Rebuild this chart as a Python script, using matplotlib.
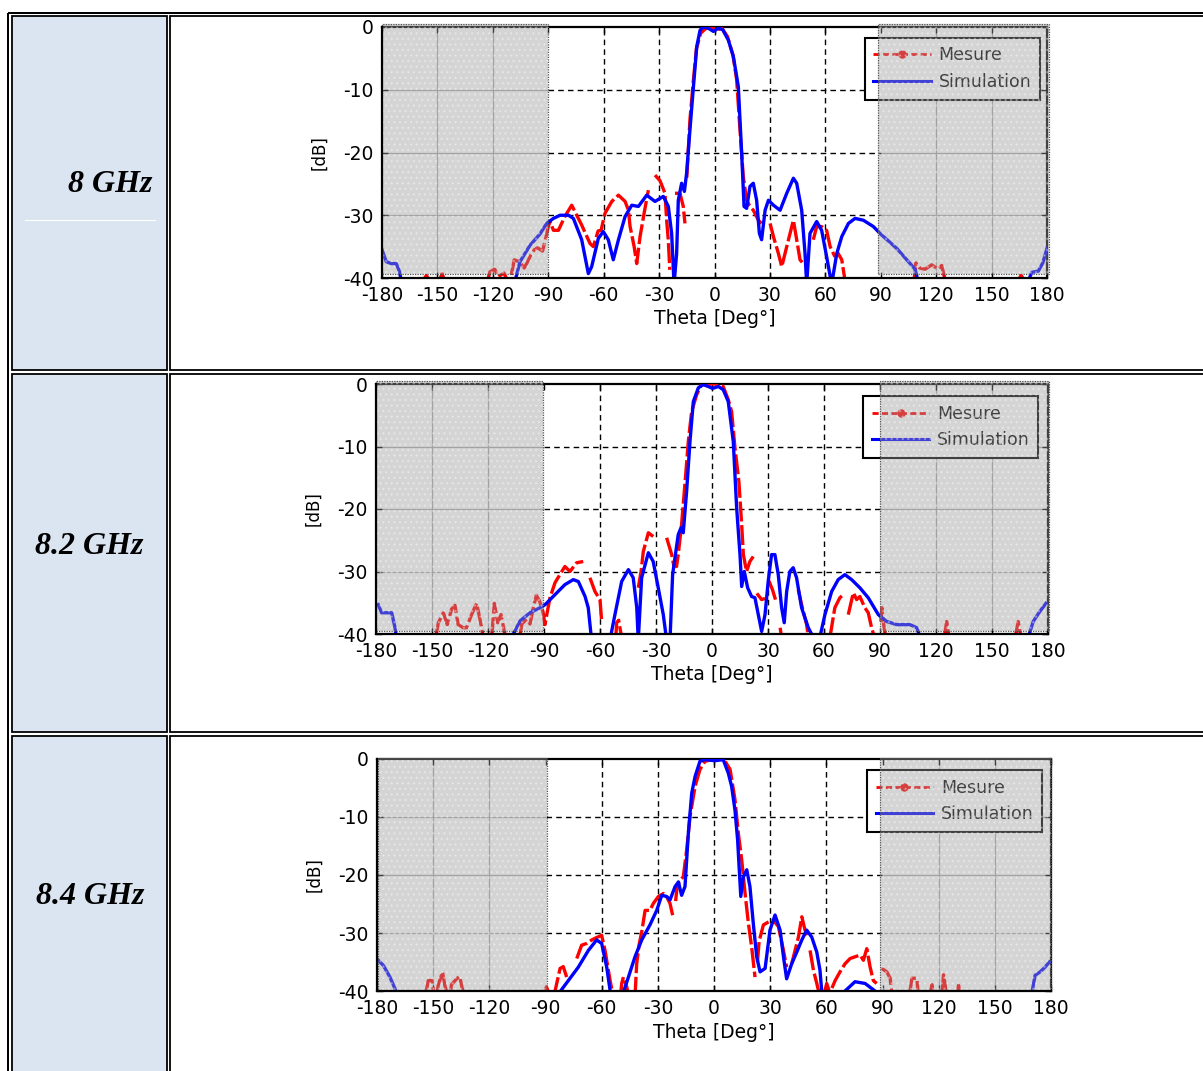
import numpy as np
import matplotlib
matplotlib.use('Agg')
import matplotlib.pyplot as plt
from matplotlib.patches import Rectangle
from matplotlib.lines import Line2D

plt.rcParams['font.family'] = ['DejaVu Sans']
plt.rcParams['axes.unicode_minus'] = False
plt.rcParams['hatch.linewidth'] = 1.0

nan = np.nan

# ---------------- data ----------------
freq_labels = ['8 GHz', '8.2 GHz', '8.4 GHz']
series_names = ['Mesure', 'Simulation']
theta_ticks = list(range(-180, 181, 30))
db_ticks = [-40, -30, -20, -10, 0]
x_label = 'Theta [Deg°]'
y_label = '[dB]'

# 8 GHz
sim_8 = [(-180, -35.5), (-177.7, -37.4), (-175, -37.7), (-172.3, -37.7), (-170.5, -39), (-169.6, -40.5), (nan, nan),
         (-108, -40.5), (-105.3, -37.4), (-99.9, -34.8), (-94.5, -33.0), (-90.85, -31.3), (-87.2, -30.5), (-83.6, -30.0),
         (-79.1, -30.0), (-76.4, -30.5), (-71.9, -33.9), (-68.3, -39.3), (-66.5, -38.2), (-62.9, -33.7), (-60.2, -32.6),
         (-57.5, -33.9), (-54.8, -37.1), (-52.0, -33.9), (-48.4, -30.2), (-44.8, -28.4), (-41.2, -28.6), (-36.7, -26.8),
         (-32.2, -27.8), (-27.7, -27.0), (-25.0, -28.6), (-23.2, -32.9), (-21.9, -41), (-20.5, -36.1), (-19.6, -27.6),
         (-17.8, -24.9), (-16.3, -26.2), (-15.1, -23.3), (-13.3, -16.4), (-11.4, -9.5), (-9.6, -3.1), (-7.8, -0.5),
         (-6.0, 0), (-3.3, -0.2), (-0.6, -0.7), (2.1, -0.2), (4.4, -0.4), (7.5, -2.1), (10.2, -4.7), (12.9, -9.5),
         (14.7, -20.1), (16.0, -28.6), (17.4, -28.9), (19.2, -25.4), (21.0, -24.9), (22.8, -27.6), (24.3, -32.9),
         (25.5, -33.9), (27.4, -29.2), (29.2, -27.6), (31.9, -28.4), (35.5, -29.2), (39.1, -26.5), (42.7, -24.1),
         (44.5, -24.9), (47.2, -29.2), (49.0, -36.1), (49.9, -41), (51.7, -32.9), (55.3, -31.0), (58.0, -32.4),
         (60.7, -36.6), (63.4, -41), (66.2, -36.1), (68.9, -33.4), (72.5, -31.3), (76.1, -30.5), (80.6, -30.8),
         (86.0, -31.8), (89.6, -32.9), (98.7, -35.3), (108.6, -38.6), (110.1, -40.5), (nan, nan),
         (169.9, -40.5), (171.7, -39.1), (175.3, -38.9), (177.7, -37.6), (180, -35.3)]
mes_8 = [(-158, -40.5), (-156, -39.6), (-154, -40.5), (nan, nan),
         (-149, -40.5), (-147.5, -39.3), (-146, -40.5), (nan, nan),
         (-123, -40.5), (-121.5, -39), (-119, -38.6), (-117, -39.8), (-114, -39.2), (-112, -40.5), (nan, nan),
         (-110, -39.5), (-108.4, -37.1), (-105.7, -37.4), (-103, -38.4), (-101, -37.3), (-99.4, -36.3), (-97.5, -35.5),
         (-95.8, -35.2), (-93.1, -35.7), (-91.3, -33.6), (-90, -31.8), (-89.0, -31.0), (-87.2, -32.4), (-84.5, -32.4),
         (-81.0, -30.2), (-77.3, -28.4), (-72, -31.5), (-67.4, -34.5), (-65.6, -35), (-63, -32.5), (-61.4, -32.4),
         (-59.3, -29.7), (-55.6, -27.8), (-52.0, -26.8), (-48.4, -27.8), (-46.6, -29.2), (-45.7, -31.8), (-43.5, -35),
         (-42.1, -37.7), (-40.3, -33.4), (-38, -29.5), (-35.8, -26.0), (nan, nan),
         (-32.2, -23.6), (-29.5, -24.5), (-26.8, -26.5), (-25.9, -30.8), (-25, -34), (-24.2, -38.7), (nan, nan),
         (-21.4, -26.5), (-18.7, -26.5), (-16.9, -28.6), (-16.0, -31.3), (nan, nan),
         (-15, -24), (-13.3, -14.8), (-11.4, -8.4), (-9.8, -3.5), (-7.5, -1.0), (-5, -0.3), (-2, 0), (1, -0.5),
         (4, -0.2), (7, -1.5), (10, -4.5), (12.0, -8.4), (13.8, -16.4), (15.6, -23.9), (17.4, -27.6), (19, -28.5),
         (21.0, -29.2), (23.8, -30.8), (25.5, -31.3), (nan, nan),
         (30.1, -31.3), (31.9, -33.4), (34.6, -36.1), (36.4, -38.2), (39.1, -35.0), (42.7, -30.8), (44.5, -33.9),
         (46.3, -37.1), (47.5, -37.5), (nan, nan),
         (53.5, -33.9), (55.3, -31.8), (58, -31.8), (60.7, -32.4), (62.6, -35), (65, -36.5), (67, -36.1),
         (68.9, -37.1), (70.7, -40.5), (nan, nan),
         (108, -40.5), (109, -37.6), (111, -38.4), (114, -38.6), (117.6, -37.9), (121, -38.6), (123, -38.0),
         (125, -40.5), (nan, nan),
         (164, -40.5), (166, -39.6), (168, -40.5)]

# 8.2 GHz
sim_82 = [(-178.8, -35.3), (-177, -36.6), (-171.6, -36.6), (-169.8, -39), (-169.2, -40.5), (nan, nan),
          (-107.3, -40.5), (-102.8, -37.9), (-97.5, -36.6), (-92.1, -35.8), (-89.4, -35.3), (-84.1, -33.7),
          (-78.8, -32.1), (-74.3, -31.3), (-71.6, -31.6), (-68.0, -34.0), (-66.3, -35.8), (-64.5, -41), (nan, nan),
          (-54.7, -41), (-52.0, -36.9), (-48.4, -31.6), (-44.8, -29.7), (-42.2, -31.0), (-40.3, -35.8), (-39.5, -41),
          (-37.7, -31.0), (-34.1, -27.0), (-31.5, -28.4), (-28.8, -32.6), (-26.1, -36.9), (-24.3, -41), (-22.5, -41),
          (-21.1, -30.5), (-18.1, -24.1), (-16.6, -23.0), (-15.4, -23.8), (-13.6, -17.2), (-11.8, -9.2),
          (-10.0, -2.8), (-7.3, -0.6), (-4.7, -0.1), (-2.0, -0.4), (0.3, -0.7), (3.4, -0.4), (6.0, -0.9),
          (8.7, -2.8), (11.4, -9.2), (13.2, -19.8), (15.0, -27.3), (15.9, -32.4), (17.3, -30.0), (19.1, -32.6),
          (21.2, -34.0), (23.0, -34.2), (24.8, -36.9), (26.6, -39.6), (28.4, -36.9), (30.1, -31.6), (31.9, -27.3),
          (33.7, -27.3), (35.5, -30.5), (37.3, -35.8), (38.7, -38.2), (40.0, -33.2), (41.7, -30.0), (43.5, -29.4),
          (45.3, -31.0), (48.0, -35.8), (51.6, -39.0), (54.2, -40.5), (57.8, -40.5), (60.5, -36.9), (64.1, -33.2),
          (67.6, -31.3), (71.2, -30.5), (74.8, -31.3), (79.2, -32.6), (83.7, -34.2), (89.1, -36.9), (93.6, -38.0),
          (99.0, -38.5), (106.1, -38.5), (109.7, -39), (111.5, -40.5), (nan, nan),
          (169.4, -40.5), (172.1, -38), (175.6, -36.4), (178.9, -35.1)]
mes_82 = [(-148, -40.5), (-146.6, -38.2), (-143.9, -36.6), (-141.8, -38.5), (-139.5, -36.0), (-137.7, -35.4),
          (-136, -38.5), (-133.3, -39), (-131.5, -39), (-128.8, -36.9), (-126.1, -35.1), (-124.4, -37.5),
          (-122.5, -40.5), (nan, nan),
          (-118, -40.5), (-116.6, -35.1), (-114.8, -38.2), (-113, -36.9), (-111, -40), (nan, nan),
          (-103, -40.5), (-101.9, -38.4), (-99.2, -37.6), (-97.5, -38.4), (-95.8, -35.9), (-94.1, -33.8),
          (-92.3, -34.8), (-90.5, -36.5), (-89.5, -38.5), (-86.8, -34.2), (-84.1, -31.8), (-81.5, -30.5),
          (-78.8, -29.2), (-76.1, -30.0), (-72.5, -28.6), (-69.0, -28.4), (nan, nan),
          (-65.4, -31.0), (-62.7, -33.2), (-60.0, -34.5), (-59.1, -38.0), (nan, nan),
          (-51.5, -40.5), (-51.1, -38.2), (-50, -37.8), (-48.4, -40.6), (nan, nan),
          (-39.5, -32.6), (-38, -30), (-36.8, -26.8), (-34.1, -23.8), (-31.5, -24.4), (nan, nan),
          (-24.3, -24.6), (-21.6, -27.3), (-20.5, -29), (-19.0, -29.2), (-18.1, -27.3), (-16.3, -22.5),
          (-14.5, -16), (-12.7, -9.2), (-10.9, -4.4), (-8.2, -1.7), (-5.6, -0.1), (0, 0), (3, 0), (6.0, -0.4),
          (8.7, -2.5), (10.5, -4.4), (12.3, -10.2), (14.4, -15.6), (15.9, -22.5), (16.8, -27.3), (18.5, -30),
          (20.3, -28.4), (22.1, -27.6), (nan, nan),
          (24, -33.5), (26.6, -34.5), (28.4, -34.3), (nan, nan),
          (30.5, -31.5), (32.5, -33), (34, -34.5), (nan, nan),
          (36.5, -39), (37.5, -41), (nan, nan),
          (46.2, -32.9), (48.0, -35.3), (50.7, -38.5), (51.6, -40.5), (nan, nan),
          (63.2, -40.5), (65.8, -35.8), (68.5, -34.2), (70.3, -33.7), (nan, nan),
          (73.0, -36.9), (75.7, -33.4), (77.5, -34.5), (79.2, -34.0), (81.9, -35.8), (83.7, -36.6), (85.5, -39),
          (87, -40.5), (nan, nan),
          (90.5, -38), (91, -35.8), (92, -38.5), (93, -40.5), (nan, nan),
          (124.5, -40.5), (125.7, -38.0), (127, -40.5), (nan, nan),
          (162.5, -40.5), (164, -38), (165.5, -40.5)]

# 8.4 GHz
sim_84 = [(-179.3, -34.7), (-176.6, -35.6), (-173.1, -37.6), (-170.4, -39.6), (-169.5, -40.5), (nan, nan),
          (-83.1, -40.5), (-77.8, -38.2), (-72.5, -35.9), (-67.1, -33.0), (-62.7, -31.2), (-60.0, -31.8),
          (-57.3, -35.9), (-55.5, -39.9), (-54.5, -41), (nan, nan),
          (-49, -41), (-48.4, -40.2), (-45.7, -37.6), (-42.2, -34.1), (-38.6, -31.2), (-34.2, -28.6), (-30.6, -26.1),
          (-27.9, -23.5), (-25.3, -23.7), (-23.5, -24.3), (-20.8, -22.0), (-19.0, -21.2), (-17.3, -23.5),
          (-15.5, -22.0), (-13.7, -12.8), (-11.9, -5.9), (-10.1, -3.0), (-7.5, -0.4), (-4.8, -0.1), (0.5, -0.3),
          (4.9, -0.1), (7.6, -2.4), (9.4, -4.7), (11.2, -8.8), (12.6, -13.9), (14.3, -23.7), (15.7, -20.3),
          (17.5, -19.1), (19.2, -22.0), (21.0, -28.4), (22.8, -34.1), (24.6, -36.7), (27.3, -36.1), (29.9, -29.5),
          (32.6, -26.9), (35.3, -29.5), (37.1, -34.1), (38.8, -37.9), (41.5, -35.3), (44.2, -33.3), (46.9, -31.2),
          (49.5, -29.5), (52.2, -30.7), (54.9, -33.3), (56.6, -36.4), (57.5, -39.9), (58, -41), (nan, nan),
          (69, -41), (70.0, -40), (75.3, -38.4), (80.7, -38.7), (86.0, -40), (87, -41), (nan, nan),
          (169.7, -40.5), (171.5, -37.3), (174.2, -36.7), (176.8, -35.9), (179.1, -35.0)]
mes_84 = [(-154, -40.5), (-152.6, -38.2), (-150.8, -38.2), (-149.5, -40.5), (nan, nan),
          (-148, -40.5), (-147.3, -39.0), (-145.0, -36.7), (-143.8, -39), (-142.5, -40.5), (nan, nan),
          (-141, -40.5), (-140.2, -38.9), (-137.2, -37.8), (-135.8, -37.5), (-134.5, -39.5), (-133.5, -40.5),
          (nan, nan),
          (-91, -40.5), (-89.5, -39.3), (-88, -40.5), (nan, nan),
          (-85.5, -41), (-84.9, -40), (-82.2, -36.1), (-80.5, -35.8), (-78.7, -37.6), (-78, -37), (nan, nan),
          (-73.3, -34.4), (-70.7, -32.1), (-68.0, -31.8), (-65.3, -31.2), (-63.5, -30.9), (-60.0, -30.4),
          (-58.2, -33.0), (-55.5, -38.2), (-53.8, -41), (nan, nan),
          (-50, -41), (-49.3, -38.7), (-48.4, -37.6), (-46.6, -39.3), (-45.5, -41), (nan, nan),
          (-42.2, -41), (-41.3, -35.3), (-40, -32), (-38.6, -29.8), (-36.8, -26.1), (-34.2, -26.1), (-32.4, -24.9),
          (-29.7, -23.7), (-27.0, -23.2), (-25.5, -23.6), (-23.5, -24.9), (-21.7, -27.5), (nan, nan),
          (-20.5, -24.5), (-19.9, -22.6), (-18.7, -21.2), (-16.4, -20.3), (-14.6, -15.7), (-12.8, -9.9),
          (-10.1, -4.7), (-7.5, -1.8), (-4.8, -0.4), (0, 0), (3, 0), (5.9, -0.4), (8.6, -1.8), (11.2, -7.0),
          (13.0, -12.8), (14.8, -17.4), (16.6, -23.2), (18.4, -28.4), (20.1, -32.4), (21.9, -37.6), (nan, nan),
          (23.2, -35), (24.1, -31.4), (26.4, -28.6), (29.1, -28.1), (31.7, -27.8), (34.4, -28.9), (37.1, -33.0),
          (38.8, -35.9), (nan, nan),
          (41.5, -35.3), (43.3, -33.0), (45.1, -30.7), (46.9, -27.2), (48.6, -29.5), (50.4, -30.7), (nan, nan),
          (51.3, -33.0), (53.1, -36.4), (54.9, -38.7), (56.6, -41), (nan, nan),
          (59.3, -39.9), (60.2, -38.7), (61.5, -40), (nan, nan),
          (63, -39.5), (64.7, -38.2), (67.3, -36.7), (70.0, -35.3), (72.7, -34.4), (75.3, -34.1), (78.0, -33.8),
          (79.8, -34.7), (81.6, -32.7), (83.4, -35.9), (85.1, -38.2), (86.9, -38.7), (nan, nan),
          (89.6, -36.1), (92.3, -36.7), (94.1, -37.8), (95, -40.5), (nan, nan),
          (104.5, -40.5), (105.7, -37.8), (108.4, -37.8), (109, -40.5), (nan, nan),
          (115.5, -40.5), (116.4, -38.9), (117, -40.5), (nan, nan),
          (121.8, -40.5), (122.6, -37.2), (123.5, -39), (124, -40.5), (nan, nan),
          (130, -40.5), (130.6, -39), (131.5, -40.5)]

measured = [mes_8, mes_82, mes_84]
simulated = [sim_8, sim_82, sim_84]

# ---------------- layout (pixels) ----------------
W, H = 1203, 1071
axes_px = [(382, 1047, 27, 278), (376, 1048, 384, 634), (377, 1051, 759, 991)]
shade_boxes = [
    [(-180, -90.3, -39.4, 0.4), (88.7, 181, -39.4, 0.4)],
    [(-180, -90.7, -39.5, 0.5), (90, 180.5, -39.5, 0.5)],
    [(-179.5, -89, -39.8, 0.2), (88.7, 179.8, -39.8, 0.2)],
]
legend_anchor = [(0.726, 0.957), (0.725, 0.952), (0.727, 0.952)]
row_spans = [(15.5, 369.5), (373.5, 731.5), (736, 1200)]
label_pos = [(152, 185, 'right'), (89, 546, 'center'), (90, 897, 'center')]

fig = plt.figure(figsize=(W / 100, H / 100), dpi=100)
bg = fig.add_axes([0, 0, 1, 1])
bg.set_xlim(0, W)
bg.set_ylim(H, 0)
bg.axis('off')
bg.set_zorder(0)

px = 0.72  # points per pixel at 100 dpi
bg.plot([8.3, 8.3], [12.7, H + 10], color='black', lw=2.0 * px, solid_capstyle='butt')
bg.plot([8.3, W + 10], [12.7, 12.7], color='black', lw=2.0 * px, solid_capstyle='butt')
for (t, b), lab, (lx, ly, lha) in zip(row_spans, freq_labels, label_pos):
    bg.add_patch(Rectangle((11.8, t), 166.8 - 11.8, b - t, facecolor='#dbe5f1',
                           edgecolor='black', lw=1.8 * px))
    bg.add_patch(Rectangle((170.3, t), 1300, b - t, facecolor='white',
                           edgecolor='black', lw=1.8 * px))
    bg.text(lx, ly, lab, family='Liberation Serif', weight='bold', style='italic',
            fontsize=23, ha=lha, va='center')
bg.plot([25, 155], [220, 220], color='white', lw=0.8)

grid_dash = (0, (4, 3))
for i in range(3):
    x0, x1, y0, y1 = axes_px[i]
    ax = fig.add_axes([x0 / W, 1 - y1 / H, (x1 - x0) / W, (y1 - y0) / H])
    ax.set_zorder(1)
    ax.set_xlim(-180, 180)
    ax.set_ylim(-40, 0)
    ax.set_xticks(theta_ticks)
    ax.set_yticks(db_ticks)
    ax.tick_params(direction='in', top=True, right=True, length=4, width=1.0,
                   labelsize=13.5, pad=6)
    ax.set_xlabel(x_label, fontsize=13.5, labelpad=3)
    ax.set_ylabel(y_label, fontsize=12, labelpad=11)
    for side in ['left', 'bottom', 'top', 'right']:
        ax.spines[side].set_linewidth(1.6)
    ax.spines['left'].set_zorder(7)
    ax.spines['bottom'].set_zorder(7)

    # grid: dashed black in the open sector, faint solid grey under the shaded sectors
    inner_x = [t for t in theta_ticks if -90 < t < 90]
    outer_x = [t for t in theta_ticks if abs(t) > 90 and abs(t) < 180]
    inner_y = [d for d in db_ticks if -40 < d < 0]
    ax.vlines(inner_x, -40, 0, colors='black', linestyles=grid_dash, lw=1.0, zorder=1.5)
    ax.hlines(inner_y, -90, 90, colors='black', linestyles=grid_dash, lw=1.0, zorder=1.5)
    ax.vlines(outer_x, -40, 0, colors='#a8a8a8', lw=0.9, zorder=1.5)
    ax.hlines(inner_y, -180, -90, colors='#a8a8a8', lw=0.9, zorder=1.5)
    ax.hlines(inner_y, 90, 180, colors='#a8a8a8', lw=0.9, zorder=1.5)

    m = np.array(measured[i], dtype=float)
    s = np.array(simulated[i], dtype=float)
    ax.plot(m[:, 0], m[:, 1], color='red', lw=2.4, linestyle=(0, (6, 1.1)), zorder=3)
    ax.plot(s[:, 0], s[:, 1], color='blue', lw=2.4, zorder=3.1)

    handles = [Line2D([], [], color='red', lw=2.0, linestyle=(0, (2.2, 1.2)), marker='.', markersize=10),
               Line2D([], [], color='blue', lw=2.2)]
    leg = ax.legend(handles, series_names, loc='upper left', bbox_to_anchor=legend_anchor[i],
                    borderaxespad=0, fontsize=12.5, handlelength=3.3, handletextpad=0.45,
                    labelspacing=0.5, borderpad=0.5, fancybox=False, edgecolor='black',
                    framealpha=1, numpoints=1)
    leg.get_frame().set_linewidth(1.5)
    leg.set_zorder(5)

    for (a, b, c, d) in shade_boxes[i]:
        ax.add_patch(Rectangle((a, c), b - a, d - c, facecolor='#9a9a9a', alpha=0.42,
                               lw=0, zorder=6, clip_on=False))
        ax.add_patch(Rectangle((a, c), b - a, d - c, facecolor='none',
                               edgecolor=(1, 1, 1, 0.3), hatch='...', lw=0,
                               zorder=6.1, clip_on=False))
        ax.add_patch(Rectangle((a, c), b - a, d - c, fill=False, edgecolor='#555555',
                               linestyle=(0, (1, 1)), lw=0.9, zorder=6.2, clip_on=False))

fig.savefig('out.png', dpi=100)
